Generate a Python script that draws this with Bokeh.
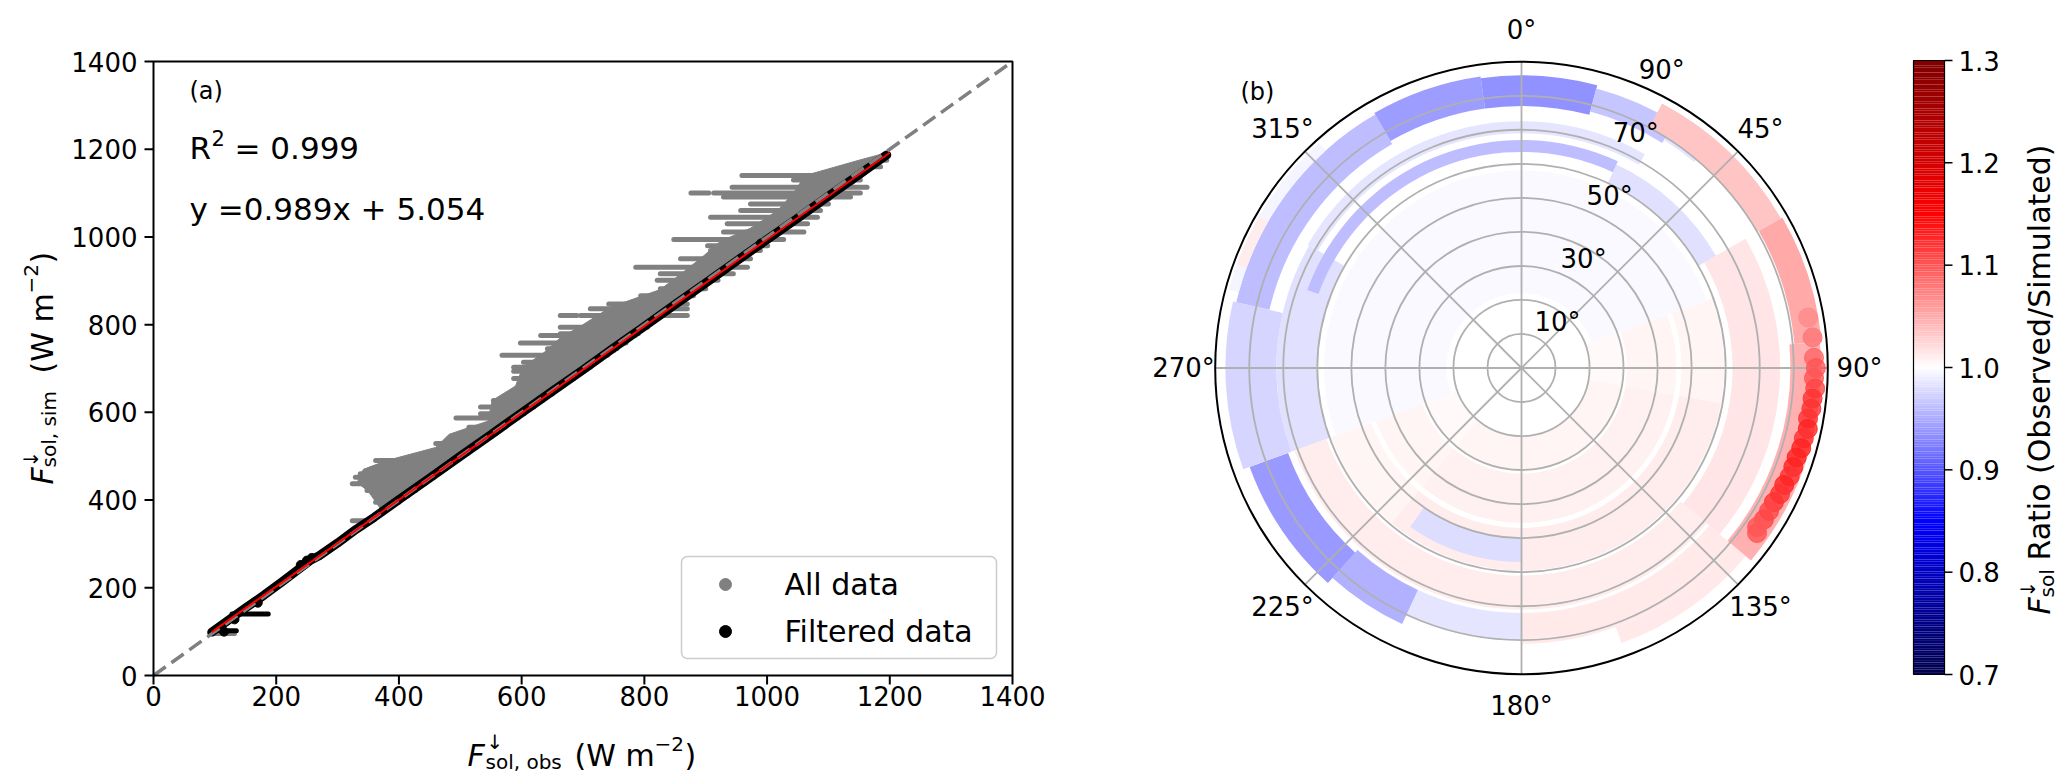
import numpy as np
from bokeh.plotting import figure
from bokeh.models import ColumnDataSource, Range1d, Quad
from bokeh.transform import linear_cmap
from bokeh.core.properties import value
from bokeh.embed import file_html
from bokeh.resources import INLINE

FONT = "DejaVu Sans"

# ---------------- panel (a) data ----------------
axis_ticks = [0, 200, 400, 600, 800, 1000, 1200, 1400]
# "All data" horizontal streaks: y value, left x, right x  (W m-2)
all_y = [1175, 1160, 1140, 1130, 1113, 1100, 1100, 1091, 1075, 1060, 1045, 1030, 1011, 994, 980, 969,
         950, 931, 916, 901, 882, 866, 847, 836, 821, 821, 808, 794, 779, 775, 760, 758, 745, 741,
         730, 714, 703, 694, 677, 661, 642, 627, 612, 597, 587, 566, 551, 529, 520, 506, 490, 483,
         471, 460, 452, 437, 422, 410, 395, 353, 96]
all_x0 = [1165, 1150, 959, 1043, 943, 913, 876, 929, 973, 957, 908, 935, 929, 848, 903, 908,
          859, 786, 826, 821, 826, 794, 742, 712, 696, 663, 717, 663, 663, 631, 700, 598, 642, 663,
          568, 603, 587, 587, 587, 614, 614, 554, 533, 533, 493, 514, 504, 460, 479, 470, 362, 391,
          354, 337, 329, 324, 348, 362, 362, 324, 92]
all_x1 = [1195, 1185, 1141, 1152, 1163, 1152, 905, 1136, 1100, 1087, 1082, 1066, 1060, 1027, 1001, 989,
          973, 968, 945, 920, 900, 880, 870, 870, 870, 690, 815, 805, 790, 785, 770, 770, 755, 750,
          740, 722, 712, 702, 685, 668, 650, 634, 620, 604, 594, 572, 558, 535, 526, 512, 495, 488,
          476, 465, 457, 442, 427, 415, 400, 357, 132]
# outline of the dense (solid) part of "All data"
all_core_x = [370, 350, 332, 342, 380, 460, 482, 545, 552, 590, 602, 640, 663, 700, 745, 826, 860, 891,
              924, 973, 1017, 1043, 1062, 1150, 1190, 1197, 1150, 1100, 1000, 900, 800, 700, 600, 500,
              400, 372]
all_core_y = [380, 420, 440, 470, 490, 520, 550, 580, 627, 660, 703, 740, 770, 800, 840, 880, 916, 950,
              990, 1020, 1060, 1100, 1140, 1175, 1190, 1182, 1130, 1080, 985, 885, 788, 690, 590, 493,
              395, 368]
# "Filtered data" (black) along the regression line
filt_x = [95, 120, 150, 180, 210, 240, 255, 270, 300, 330, 360, 400, 450, 500, 550, 600, 650, 700,
          750, 800, 850, 900, 950, 1000, 1050, 1100, 1150, 1195]
filt_y = [99, 124, 154, 183, 214, 246, 262, 273, 302, 333, 361, 401, 450, 500, 549, 599, 648, 697,
          747, 796, 846, 895, 945, 994, 1043, 1093, 1142, 1187]
filt_streak_y = [140, 102]
filt_streak_x0 = [128, 108]
filt_streak_x1 = [187, 135]
filt_pts_x = [240, 250, 258, 170, 132, 115, 990]
filt_pts_y = [252, 262, 268, 166, 128, 100, 985]
fit_slope, fit_intercept, r_squared = 0.989, 5.054, 0.999
fit_x = [95, 1200]
legend_labels = ["All data", "Filtered data"]
legend_colors = ["gray", "black"]

# ---------------- panel (b) data ----------------
# bands of points: azimuth start/end (deg, clockwise from N), zenith start/end (deg), ratio
band_az0 = [70, 100, 220, 70, 100, 220, 70, 100, 220, 250, 130, 60, 250, 300, 25, 290, 180,
            130, 130, 180, 205, 222, 250, 283, 330, 352, 375, 392, 28, 60, 85, 285, 290]
band_az1 = [100, 220, 250, 100, 220, 250, 100, 220, 250, 430, 250, 130, 300, 390, 60, 385, 215,
            180, 160, 205, 222, 250, 283, 330, 352, 375, 392, 400, 60, 85, 130, 318, 300]
band_r0 = [20, 20, 20, 31, 31, 31, 47, 47, 47, 22, 61, 62, 60, 69, 60, 63.5, 50,
           72, 81, 72, 72, 73, 72, 76, 77, 77, 78, 79, 80, 80.5, 79, 86, 86]
band_r1 = [30, 30, 30, 45.5, 45.5, 45.5, 59.5, 59.5, 59.5, 58, 71, 76, 72, 72.5, 66, 67, 57,
           81, 86, 80, 83, 85, 87, 86, 86.5, 86, 85, 84, 88, 88.5, 88, 89, 89]
band_ratio = [1.003, 1.006, 1.003, 1.005, 1.009, 1.005, 1.006, 1.011, 1.006, 0.997, 1.01, 1.016,
              0.982, 0.985, 0.982, 0.962, 0.98,
              1.014, 1.012, 0.985, 0.955, 0.94, 0.976, 0.962, 0.942, 0.935, 0.965, 0.985,
              1.035, 1.05, 1.045, 0.995, 1.01]
# strongly over-observed points (large red markers)
blob_az = [80, 84, 88, 90, 92, 94, 96, 98, 100, 102, 104, 106, 108, 110, 112, 114, 116, 118, 120,
           122, 124, 125]
blob_zen = [85.5, 86, 86, 86.5, 86, 86.5, 86, 86, 85.5, 86, 85.5, 85.5, 85, 85, 85, 84.5, 84.5, 84,
            84, 84, 83.5, 84.5]
blob_ratio = [1.07, 1.08, 1.09, 1.10, 1.10, 1.11, 1.12, 1.12, 1.12, 1.13, 1.12, 1.13, 1.13, 1.13,
              1.12, 1.13, 1.12, 1.12, 1.11, 1.11, 1.10, 1.10]
ring_values = [10, 20, 30, 40, 50, 60, 70, 80]
ring_labels = [10, 30, 50, 70, 90]
az_ticks = [0, 45, 90, 135, 180, 225, 270, 315]
az_tick_labels = ["0°", "45°", "90°", "135°", "180°", "225°", "270°", "315°"]
cbar_ticks = [0.7, 0.8, 0.9, 1.0, 1.1, 1.2, 1.3]
cbar_tick_labels = ["0.7", "0.8", "0.9", "1.0", "1.1", "1.2", "1.3"]
vmin, vmax = 0.7, 1.3

# seismic colormap palette
anchors = [(0.0, (0, 0, 0.3)), (0.25, (0, 0, 1)), (0.5, (1, 1, 1)), (0.75, (1, 0, 0)), (1.0, (0.5, 0, 0))]
pos = [a[0] for a in anchors]
palette = []
for t in np.linspace(0, 1, 256):
    rgb = [np.interp(t, pos, [a[1][k] for a in anchors]) for k in range(3)]
    palette.append("#%02x%02x%02x" % tuple(int(round(c * 255)) for c in rgb))

W, H = 2067, 784

# panel (a) scale: frame at page x 153..1012, y 61..675
sx = 1400.0 / (1012 - 153)
sy = 1400.0 / (675 - 61)
def ax_(px):
    return (px - 153) * sx
def ay_(py):
    return (675 - py) * sy

# panel (b) scale: pole at page (1521, 367.5), 90 deg zenith = 306.3 px
S = 306.3 / 90.0
CX, CY = 1521.0, 367.5
def bx(px):
    return (px - CX) / S
def by(py):
    return (CY - py) / S

p = figure(width=W, height=H, x_range=Range1d(bx(0), bx(W)), y_range=Range1d(by(H), by(0)),
           output_backend="svg", toolbar_location=None, x_axis_location=None, y_axis_location=None,
           min_border=0, min_border_left=0, min_border_right=0, min_border_top=0, min_border_bottom=0)
p.extra_x_ranges = {"ax": Range1d(ax_(0), ax_(W))}
p.extra_y_ranges = {"ay": Range1d(ay_(H), ay_(0))}
p.grid.visible = False
p.outline_line_color = None
A = dict(x_range_name="ax", y_range_name="ay")

def txt(x, y, text, size, style="normal", angle=0.0, align="left", baseline="alphabetic", panel="b"):
    kw = A if panel == "a" else {}
    p.text(x=[x], y=[y], text=[text], text_font=value(FONT), text_font_size=value(size),
           text_font_style=value(style), angle=angle, text_align=align, text_baseline=baseline,
           text_color="black", **kw)

# ================= panel (a) =================
p.patch(x=all_core_x, y=all_core_y, fill_color="gray", line_color="gray", line_width=1, **A)
p.segment(x0=all_x0, y0=all_y, x1=all_x1, y1=all_y, line_color="gray", line_width=5,
          line_cap="round", **A)
p.line(x=filt_x, y=filt_y, line_color="black", line_width=9, line_cap="round", line_join="round", **A)
p.segment(x0=filt_streak_x0, y0=filt_streak_y, x1=filt_streak_x1, y1=filt_streak_y,
          line_color="black", line_width=5, line_cap="round", **A)
p.scatter(x=filt_pts_x, y=filt_pts_y, size=9, color="black", **A)
p.line(x=[axis_ticks[0], axis_ticks[-1]], y=[axis_ticks[0], axis_ticks[-1]], line_color="gray",
       line_width=3.5, line_dash="15 7", **A)
p.line(x=fit_x, y=[fit_slope * v + fit_intercept for v in fit_x], line_color="red", line_width=2, **A)

# axes frame, ticks and tick labels
lo, hi = axis_ticks[0], axis_ticks[-1]
p.quad(left=[lo], right=[hi], bottom=[lo], top=[hi], fill_color=None, line_color="black",
       line_width=2, **A)
n = len(axis_ticks)
p.segment(x0=axis_ticks, y0=[lo] * n, x1=axis_ticks, y1=[ay_(684)] * n, line_color="black",
          line_width=2, **A)
p.segment(x0=[lo] * n, y0=axis_ticks, x1=[ax_(144)] * n, y1=axis_ticks, line_color="black",
          line_width=2, **A)
p.text(x=axis_ticks, y=[ay_(685)] * n, text=[str(t) for t in axis_ticks], text_font=value(FONT),
       text_font_size=value("26px"), text_align="center", text_baseline="top", text_color="black", **A)
p.text(x=[ax_(137)] * n, y=axis_ticks, text=[str(t) for t in axis_ticks], text_font=value(FONT),
       text_font_size=value("26px"), text_align="right", text_baseline="middle", text_color="black", **A)

# legend
lq = p.quad(left=[ax_(681)], right=[ax_(996)], bottom=[ay_(658)], top=[ay_(556)], fill_color="white",
            fill_alpha=0.85, line_color="#cccccc", line_width=1.5, **A)
if "border_radius" in Quad.properties():
    lq.glyph.border_radius = 6
ly = [ay_(584), ay_(631)]
p.scatter(x=[ax_(725)] * 2, y=ly, size=12, color=legend_colors, **A)
p.text(x=[ax_(784)] * 2, y=ly, text=legend_labels, text_font=value(FONT), text_font_size=value("30px"),
       text_align="left", text_baseline="middle", text_color="black", **A)

txt(ax_(189), ay_(90), "(a)", "24px", panel="a")
txt(ax_(189), ay_(147), "R", "31px", panel="a")
txt(ax_(211), ay_(137), "2", "21px", panel="a")
txt(ax_(234), ay_(147), "= %.3f" % r_squared, "31px", panel="a")
txt(ax_(189), ay_(208), "y =%.3fx + %.3f" % (fit_slope, fit_intercept), "31px", panel="a")
# x axis label
txt(ax_(467), ay_(755), "F", "30px", "italic", panel="a")
txt(ax_(486), ay_(741), "↓", "20px", panel="a")
txt(ax_(485), ay_(761), "sol, obs", "20px", panel="a")
txt(ax_(574), ay_(755), "(W m", "30px", panel="a")
txt(ax_(654), ay_(743), "−2", "20px", panel="a")
txt(ax_(684), ay_(755), ")", "30px", panel="a")
# y axis label (rotated)
R90 = np.pi / 2
txt(ax_(42), ay_(484), "F", "30px", "italic", angle=R90, panel="a")
txt(ax_(30), ay_(467), "↓", "20px", angle=R90, panel="a")
txt(ax_(48), ay_(467), "sol, sim", "20px", angle=R90, panel="a")
txt(ax_(42), ay_(373), "(W m", "30px", angle=R90, panel="a")
txt(ax_(30), ay_(293), "−2", "20px", angle=R90, panel="a")
txt(ax_(42), ay_(263), ")", "30px", angle=R90, panel="a")

# ================= panel (b) =================
mapper = linear_cmap("ratio", palette, vmin, vmax)
band_src = ColumnDataSource(dict(
    r0=band_r0, r1=band_r1, ratio=band_ratio,
    sa=[90 - a for a in band_az1], ea=[90 - a for a in band_az0]))
p.annular_wedge(x=0, y=0, inner_radius="r0", outer_radius="r1", start_angle="sa", end_angle="ea",
                start_angle_units="deg", end_angle_units="deg", direction="anticlock",
                fill_color=mapper, line_color=None, source=band_src)

p.circle(x=[0] * len(ring_values), y=[0] * len(ring_values), radius=ring_values,
         fill_color=None, line_color="#b0b0b0", line_width=1.8)
rad = np.deg2rad(az_ticks)
p.segment(x0=[0] * len(az_ticks), y0=[0] * len(az_ticks), x1=list(90 * np.sin(rad)),
          y1=list(90 * np.cos(rad)), line_color="#b0b0b0", line_width=1.8)

ba = np.deg2rad(blob_az)
blob_src = ColumnDataSource(dict(x=list(np.array(blob_zen) * np.sin(ba)),
                                 y=list(np.array(blob_zen) * np.cos(ba)), ratio=blob_ratio))
p.scatter(x="x", y="y", size=19, fill_color=mapper, line_color=mapper, fill_alpha=0.8,
          line_alpha=0.9, source=blob_src)

p.circle(x=[0], y=[0], radius=[90], fill_color=None, line_color="black", line_width=2)

p.text(x=list(99.3 * np.sin(rad)), y=list(99.3 * np.cos(rad)), text=az_tick_labels,
       text_font=value(FONT), text_font_size=value("26px"), text_align="center",
       text_baseline="middle", text_color="black")
rl = np.deg2rad(22.5)
p.text(x=[r * np.sin(rl) for r in ring_labels], y=[r * np.cos(rl) for r in ring_labels],
       text=["%d°" % r for r in ring_labels], text_font=value(FONT), text_font_size=value("26px"),
       text_align="left", text_baseline="bottom", text_color="black")
txt(bx(1240), by(91), "(b)", "24px")

# colour bar
cb_x0, cb_x1 = bx(1913), bx(1944)
cb_y0, cb_y1 = by(674), by(60)
edges = np.linspace(cb_y0, cb_y1, len(palette) + 1)
p.quad(left=cb_x0, right=cb_x1, bottom=list(edges[:-1]), top=list(edges[1:]),
       fill_color=palette, line_color=None)
p.quad(left=[cb_x0], right=[cb_x1], bottom=[cb_y0], top=[cb_y1], fill_color=None,
       line_color="black", line_width=1.2)
ty = [cb_y0 + (v - vmin) / (vmax - vmin) * (cb_y1 - cb_y0) for v in cbar_ticks]
p.segment(x0=[cb_x1] * len(ty), y0=ty, x1=[cb_x1 + 8 / S] * len(ty), y1=ty, line_color="black",
          line_width=1.5)
p.text(x=[bx(1958)] * len(ty), y=ty, text=cbar_tick_labels, text_font=value(FONT),
       text_font_size=value("26px"), text_align="left", text_baseline="middle", text_color="black")
txt(bx(2039), by(614), "F", "30px", "italic", angle=R90)
txt(bx(2027), by(597), "↓", "20px", angle=R90)
txt(bx(2046), by(597), "sol", "20px", angle=R90)
txt(bx(2039), by(560), "Ratio (Observed/Simulated)", "30px", angle=R90)

open("out.html", "w").write(file_html(p, INLINE))
